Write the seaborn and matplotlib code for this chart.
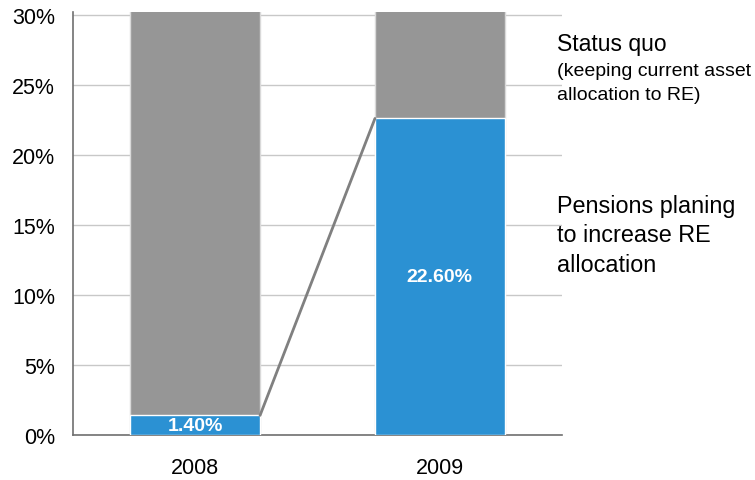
import matplotlib
matplotlib.use("Agg")
import matplotlib.pyplot as plt
import seaborn as sns
import pandas as pd

years = ["2008", "2009"]
increase = [1.4, 22.6]          # Pensions planning to increase RE allocation (%)
status_quo = [98.6, 77.4]       # Status quo (%)
yticks = [0, 5, 10, 15, 20, 25, 30]

sns.set_theme(style="white")
plt.rcParams['font.family'] = ['Liberation Sans', 'DejaVu Sans']
plt.rcParams['text.color'] = 'black'

df = pd.DataFrame({"year": years, "inc": increase,
                   "total": [a + b for a, b in zip(increase, status_quo)]})

fig = plt.figure(figsize=(7.55, 4.81), dpi=100)
ax = fig.add_axes([73/755, 1 - 436/481, (562-73)/755, (436-13)/481])

blue = "#2B91D3"
gray = "#969696"

sns.barplot(data=df, x="year", y="total", color=gray, width=0.53, ax=ax,
            edgecolor="#d9d9d9", linewidth=1, saturation=1, zorder=2)
sns.barplot(data=df, x="year", y="inc", color=blue, width=0.53, ax=ax,
            edgecolor="white", linewidth=1, saturation=1, zorder=3)

ax.set_xlim(-0.5, 1.5)
ax.set_ylim(0, 30.2)
ax.set_yticks(yticks)
ax.set_yticklabels([f"{v}%" for v in yticks], va="top")
ax.set_xlabel("")
ax.set_ylabel("")
ax.yaxis.grid(True, color="#c8c8c8", linewidth=1, zorder=0)
ax.set_axisbelow(True)
ax.tick_params(axis="y", labelsize=15.5, pad=13, length=0, labelcolor="black")
ax.tick_params(axis="x", labelsize=15.5, pad=16, length=0, labelcolor="black")
for lab in ax.get_yticklabels():
    lab.set_verticalalignment("center_baseline")
for s in ["top", "right"]:
    ax.spines[s].set_visible(False)
for s in ["left", "bottom"]:
    ax.spines[s].set_color("#707070")
    ax.spines[s].set_linewidth(1.2)

# connector line between blue segment tops
hw = 0.53 / 2
ax.plot([0 + hw, 1 - hw], [increase[0], increase[1]], color="#808080",
        linewidth=2, zorder=4, solid_capstyle="round")

# value labels
ax.text(0, increase[0] / 2, f"{increase[0]:.2f}%", color="white", fontsize=14,
        fontweight="bold", ha="center", va="center", zorder=5)
ax.text(1, increase[1] / 2, f"{increase[1]:.2f}%", color="white", fontsize=14,
        fontweight="bold", ha="center", va="center", zorder=5)

# right-side annotations
fig.text(557/755, 1 - 45/481, "Status quo", fontsize=16.5, ha="left", va="center")
fig.text(557/755, 1 - 72/481, "(keeping current asset", fontsize=14, ha="left", va="center")
fig.text(557/755, 1 - 96/481, "allocation to RE)", fontsize=14, ha="left", va="center")
fig.text(557/755, 1 - 206/481, "Pensions planing", fontsize=16.8, ha="left", va="center")
fig.text(557/755, 1 - 236/481, "to increase RE", fontsize=16.8, ha="left", va="center")
fig.text(557/755, 1 - 266/481, "allocation", fontsize=16.8, ha="left", va="center")

fig.savefig("out.png", dpi=100)
